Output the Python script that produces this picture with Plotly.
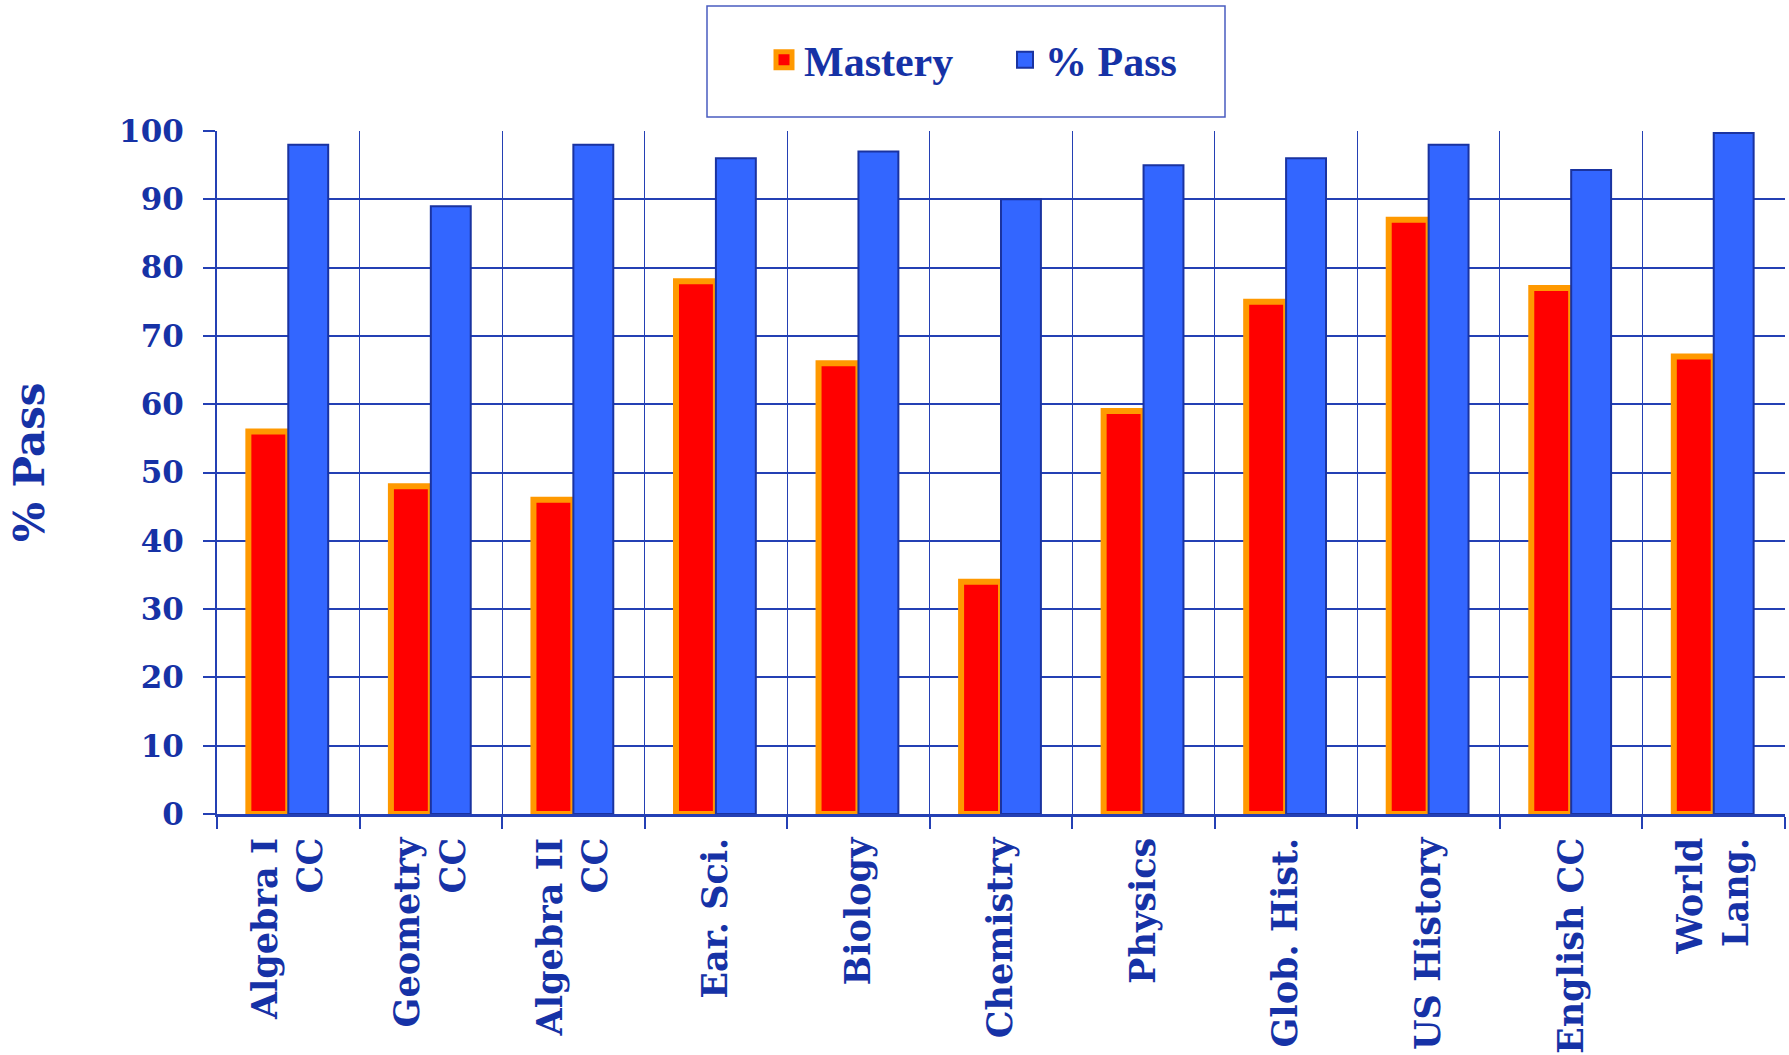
import plotly.graph_objects as go

categories = ["Algebra I<br>CC", "Geometry<br>CC", "Algebra II<br>CC", "Ear. Sci.", "Biology",
              "Chemistry", "Physics", "Glob. Hist.", "US History", "English CC", "World<br>Lang."]
mastery = [56, 48, 46, 78, 66, 34, 59, 75, 87, 77, 67]
pass_pct = [98, 89, 98, 96, 97, 90, 95, 96, 98, 94.3, 99.7]
y_ticks = [0, 10, 20, 30, 40, 50, 60, 70, 80, 90, 100]
series_names = ["Mastery", "% Pass"]

TEXT = "#1632A6"
GRID = "#2440B4"
SERIF = "DejaVu Serif"
RED, ORANGE = "#FF0000", "#FF9900"
BLUE, DARKBLUE = "#3366FF", "#1A33A0"

fig = go.Figure()
fig.add_trace(go.Bar(
    name=series_names[0], x=categories, y=mastery, showlegend=False, legendgroup="m",
    marker=dict(color=RED, line=dict(color=ORANGE, width=6)),
))
fig.add_trace(go.Bar(
    name=series_names[1], x=categories, y=pass_pct, showlegend=False, legendgroup="p",
    marker=dict(color=BLUE, line=dict(color=DARKBLUE, width=2)),
))
# legend entries (larger square swatches like the original)
fig.add_trace(go.Scatter(
    name=series_names[0], x=[None], y=[None], mode="markers", legendgroup="m",
    marker=dict(symbol="square", size=16, color=RED, line=dict(color=ORANGE, width=5)),
))
fig.add_trace(go.Scatter(
    name=series_names[1], x=[None], y=[None], mode="markers", legendgroup="p",
    marker=dict(symbol="square", size=16, color=BLUE, line=dict(color=DARKBLUE, width=2)),
))

W, H = 1789, 1055
L, R, T, B = 217, 4, 131, 241
pw, ph = W - L - R, H - T - B

def px2x(x):
    return (x - L) / pw

def px2y(y):
    return (H - B - y) / ph

fig.add_shape(type="rect", xref="paper", yref="paper",
              x0=px2x(707), x1=px2x(1225), y0=px2y(117), y1=px2y(6),
              line=dict(color="#4A5CC0", width=1.5), fillcolor="rgba(0,0,0,0)")

fig.add_annotation(text="% Pass", xref="paper", yref="paper",
                   x=px2x(29), y=px2y(462), xanchor="center", yanchor="middle",
                   textangle=-90, showarrow=False,
                   font=dict(family=SERIF, size=42, color=TEXT, weight="bold"))

fig.update_layout(
    width=W, height=H,
    margin=dict(l=L, r=R, t=T, b=B, autoexpand=False),
    paper_bgcolor="white", plot_bgcolor="white",
    barmode="group", bargap=0.44, bargroupgap=0,
    showlegend=True,
    legend=dict(
        orientation="h", x=px2x(764), xanchor="left", y=px2y(60), yanchor="middle",
        font=dict(family="Liberation Serif", size=42, color=TEXT, weight="bold"),
        bgcolor="rgba(0,0,0,0)", borderwidth=0, itemsizing="trace",
        entrywidth=196, entrywidthmode="pixels",
        traceorder="normal",
    ),
    xaxis=dict(
        type="category", tickson="boundaries", ticks="outside", ticklen=12,
        tickcolor=GRID, tickwidth=1.5,
        showgrid=True, gridcolor=GRID, gridwidth=1,
        showline=True, linecolor=GRID, linewidth=2.5,
        tickangle=-90, ticklabelstandoff=7,
        tickfont=dict(family=SERIF, size=35, color=TEXT, weight="bold"),
        automargin=False,
    ),
    yaxis=dict(
        range=[0, 100], tickvals=y_ticks, ticks="outside", ticklen=12,
        tickcolor=GRID, tickwidth=1.5,
        showgrid=True, gridcolor=GRID, gridwidth=1.5,
        showline=True, linecolor=GRID, linewidth=2,
        zeroline=False,
        tickfont=dict(family=SERIF, size=31, color=TEXT, weight="bold"),
        ticklabelstandoff=13,
        automargin=False,
    ),
)

fig.write_html("out.html", config={"displayModeBar": False},
               post_script="document.body.style.margin='0';document.body.style.overflow='hidden';")
